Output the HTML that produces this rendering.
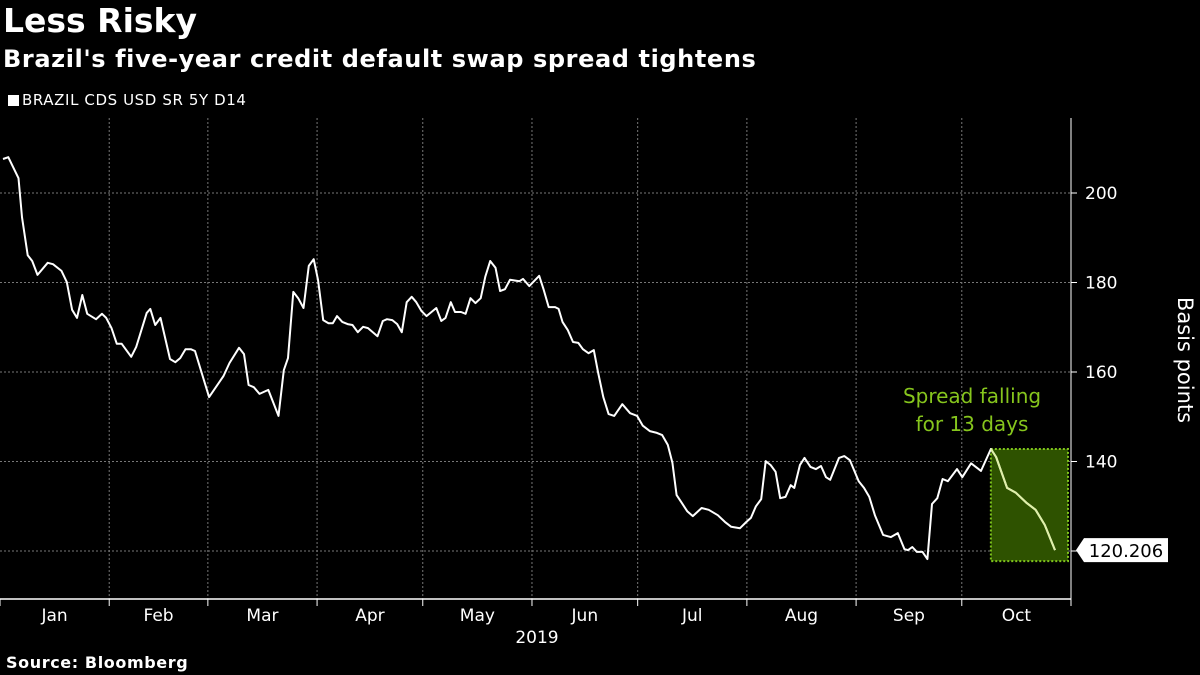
<!DOCTYPE html>
<html><head><meta charset="utf-8">
<style>
html,body{margin:0;padding:0;background:#000;}
body{width:1200px;height:675px;overflow:hidden;position:relative;font-family:"DejaVu Sans","Liberation Sans",sans-serif;color:#fff;}
.t{position:absolute;white-space:nowrap;}
</style></head>
<body>
<div class="t" style="left:3px;top:1px;font-size:33px;font-weight:bold;">Less Risky</div>
<div class="t" style="left:3px;top:45px;font-size:24px;font-weight:bold;letter-spacing:0.6px;">Brazil's five-year credit default swap spread tightens</div>
<div class="t" style="left:8px;top:91px;font-size:15px;letter-spacing:0.6px;"><span style="display:inline-block;width:11px;height:11px;background:#fff;margin-right:3px;vertical-align:-1px"></span>BRAZIL CDS USD SR 5Y D14</div>
<div class="t" style="left:6px;top:653px;font-size:16px;font-weight:bold;letter-spacing:0.6px;">Source: Bloomberg</div>
<svg id="chart" width="1200" height="675" style="position:absolute;left:0;top:0" font-family="DejaVu Sans, Liberation Sans, sans-serif"></svg>
<script>
const yTicks=[200,180,160,140,120];
const monthLabels=["Jan","Feb","Mar","Apr","May","Jun","Jul","Aug","Sep","Oct"];
const monthStartDays=[0,31,59,90,120,151,181,212,243,273,304];
const days=[0,1.5,4.4,5.4,7.0,8.3,9.8,12.7,14.2,16.6,18.1,19.6,21.0,22.5,23.9,26.4,28.1,29.3,30.8,32.3,33.7,36.4,37.8,40.8,41.8,43.2,44.7,47.4,48.9,50.3,51.8,53.3,54.5,58.5,62.6,64.3,67.0,68.4,69.7,71.2,72.8,75.3,78.2,79.7,80.9,82.4,83.8,85.3,86.8,88.2,89.4,90.9,92.4,93.6,94.8,96.3,97.8,99.2,100.7,102.2,103.6,106.3,107.8,109.0,110.5,111.9,113.2,114.6,116.0,117.3,118.8,120.2,123.0,124.4,125.6,127.1,128.3,130.0,131.3,132.7,134.1,135.6,136.9,138.3,139.8,141.1,142.5,143.9,146.6,
147.6,149.4,152.2,153.5,154.9,156.7,157.7,158.8,160.3,161.8,163.3,164.6,166.2,167.7,168.9,170.4,171.9,173.5,175.8,178.0,180.0,181.6,183.6,185.6,187.1,188.7,190.0,191.2,192.7,194.2,195.8,198.3,200.3,202.9,204.9,206.7,209.2,211.0,212.3,213.7,215.2,216.5,217.9,219.3,220.6,222.1,223.6,224.6,226.2,227.5,229.2,230.7,232.2,233.6,234.8,237.3,238.8,240.4,242.9,244.4,245.9,247.5,249.8,252.0,254.0,255.9,256.9,258.1,259.4,261.0,262.4,263.7,265.2,266.7,268.2,270.8,272.3,274.8,277.6,280.4,281.9,285.0,287.5,290.6,293.1,295.7,298.6];
const values=[207.6,208,203.3,194.6,186.1,184.8,181.7,184.4,184.1,182.6,180.1,173.9,172.1,177.2,173,171.8,173,172.1,169.8,166.3,166.3,163.4,165.6,173.2,174.1,170.5,172.1,162.9,162.2,163.1,165.1,165.1,164.7,154.4,159.1,162,165.4,164,157.1,156.6,155.1,156,150.2,160.4,163.1,177.9,176.5,174.3,183.7,185.2,180.6,171.6,170.9,170.9,172.5,171.2,170.7,170.5,168.9,170.1,169.8,168,171.4,171.8,171.6,170.7,168.9,175.6,176.8,175.6,173.6,172.5,174.3,171.4,172.1,175.6,173.4,173.4,173,176.5,175.4,176.5,181.3,184.8,183.3,178.1,178.5,180.6,180.3,
180.8,179.2,181.5,178.3,174.5,174.5,174.1,171.2,169.4,166.7,166.5,165.1,164.2,164.9,160,154.4,150.6,150.2,152.8,150.8,150.2,148,146.8,146.4,145.9,143.7,139.7,132.5,130.7,128.9,127.8,129.6,129.2,128,126.5,125.4,125.1,126.5,127.4,130,131.6,140.1,139.2,137.7,131.8,132.1,134.7,134.1,139.2,140.8,138.8,138.3,139,136.5,135.9,140.8,141.2,140.3,135.6,134.1,132.1,128,123.6,123.1,124,120.4,120.2,120.9,119.8,119.8,118.2,130.5,131.8,136.1,135.6,138.3,136.5,139.6,137.9,142.8,141,134.1,133,130.7,129.2,125.8,120.206];
const highlightCount=7;
const lastLabel="120.206";

const svg=document.getElementById('chart');
const NS='http://www.w3.org/2000/svg';
const X0=0,X1=1071,Y200=193,PXPER=4.475;
const yS=v=>Y200+(200-v)*PXPER;
const dayX=d=>X0+(X1-X0)*d/304;
const iX=i=>dayX(days[i])+3;
function mk(tag,attrs,parent){const e=document.createElementNS(NS,tag);for(const k in attrs)e.setAttribute(k,attrs[k]);(parent||svg).appendChild(e);return e;}

yTicks.forEach(v=>{
  const g=mk('line',{x1:0,x2:X1,y1:yS(v),y2:yS(v),stroke:'#777','stroke-dasharray':'2,2','stroke-width':1});
  
  
  const tk=mk('line',{x1:X1,x2:X1+6,y1:yS(v),y2:yS(v),stroke:'#fff'});
  
  
  const t=mk('text',{x:X1+14,y:yS(v)+6,fill:'#fff','font-size':17});
  t.textContent=v;
  
  
});
monthStartDays.forEach((d,i)=>{
  const x=dayX(d);
  if(i>0&&i<monthStartDays.length-1){
    const g=mk('line',{x1:x,x2:x,y1:118,y2:599,stroke:'#777','stroke-dasharray':'2,2'});
    
    
  }
  const tk=mk('line',{x1:x,x2:x,y1:599,y2:606,stroke:'#fff'});
  
  
  if(i<monthLabels.length){
    const t=mk('text',{x:(dayX(d)+dayX(monthStartDays[i+1]))/2,y:621,fill:'#fff','font-size':17,'text-anchor':'middle'});
    t.textContent=monthLabels[i];
    
    
  }
});
const yr=mk('text',{x:537,y:643,fill:'#fff','font-size':17,'text-anchor':'middle'});
yr.textContent='2019';


const ax=mk('line',{x1:0,x2:X1,y1:599,y2:599,stroke:'#fff','stroke-width':1.5});


const ay=mk('line',{x1:X1,x2:X1,y1:118,y2:599,stroke:'#fff','stroke-width':1});


const yt=mk('text',{x:0,y:0,fill:'#fff','font-size':21,transform:'translate(1178,360) rotate(90)','text-anchor':'middle'});
yt.textContent='Basis points';



const hs=values.length-1-highlightCount;
const hv=values.slice(hs);
const bx0=iX(hs), bx1=X1-3;
const by0=yS(Math.max(...hv)), by1=yS(Math.min(...hv))+11;
const box=mk('rect',{x:bx0,y:by0,width:bx1-bx0,height:by1-by0,fill:'#2e5200',stroke:'#7fc41c','stroke-width':2,'stroke-dasharray':'2,2'});


const a1=mk('text',{x:972,y:403,fill:'#86c51d','font-size':20,'text-anchor':'middle'});
a1.textContent='Spread falling';


const a2=mk('text',{x:972,y:431,fill:'#86c51d','font-size':20,'text-anchor':'middle'});
a2.textContent='for 13 days';



const pts=values.map((v,i)=>iX(i).toFixed(1)+','+yS(v).toFixed(1)).join(' ');
const line=mk('polyline',{points:pts,fill:'none',stroke:'#fff','stroke-width':2,'stroke-linejoin':'round'});


const hpts=values.slice(hs).map((v,j)=>iX(hs+j).toFixed(1)+','+yS(v).toFixed(1)).join(' ');
const hl=mk('polyline',{points:hpts,fill:'none',stroke:'#dff0a8','stroke-width':2,'stroke-linejoin':'round'});



const lv=values[values.length-1], ly=yS(lv);
const lb=mk('path',{d:`M${X1+5},${ly} L${X1+13},${ly-12} L${X1+97},${ly-12} L${X1+97},${ly+12} L${X1+13},${ly+12} Z`,fill:'#fff'});


const lt=mk('text',{x:X1+55,y:ly+7,fill:'#000','font-size':18,'text-anchor':'middle'});
lt.textContent=lastLabel;


</script>
</body></html>
